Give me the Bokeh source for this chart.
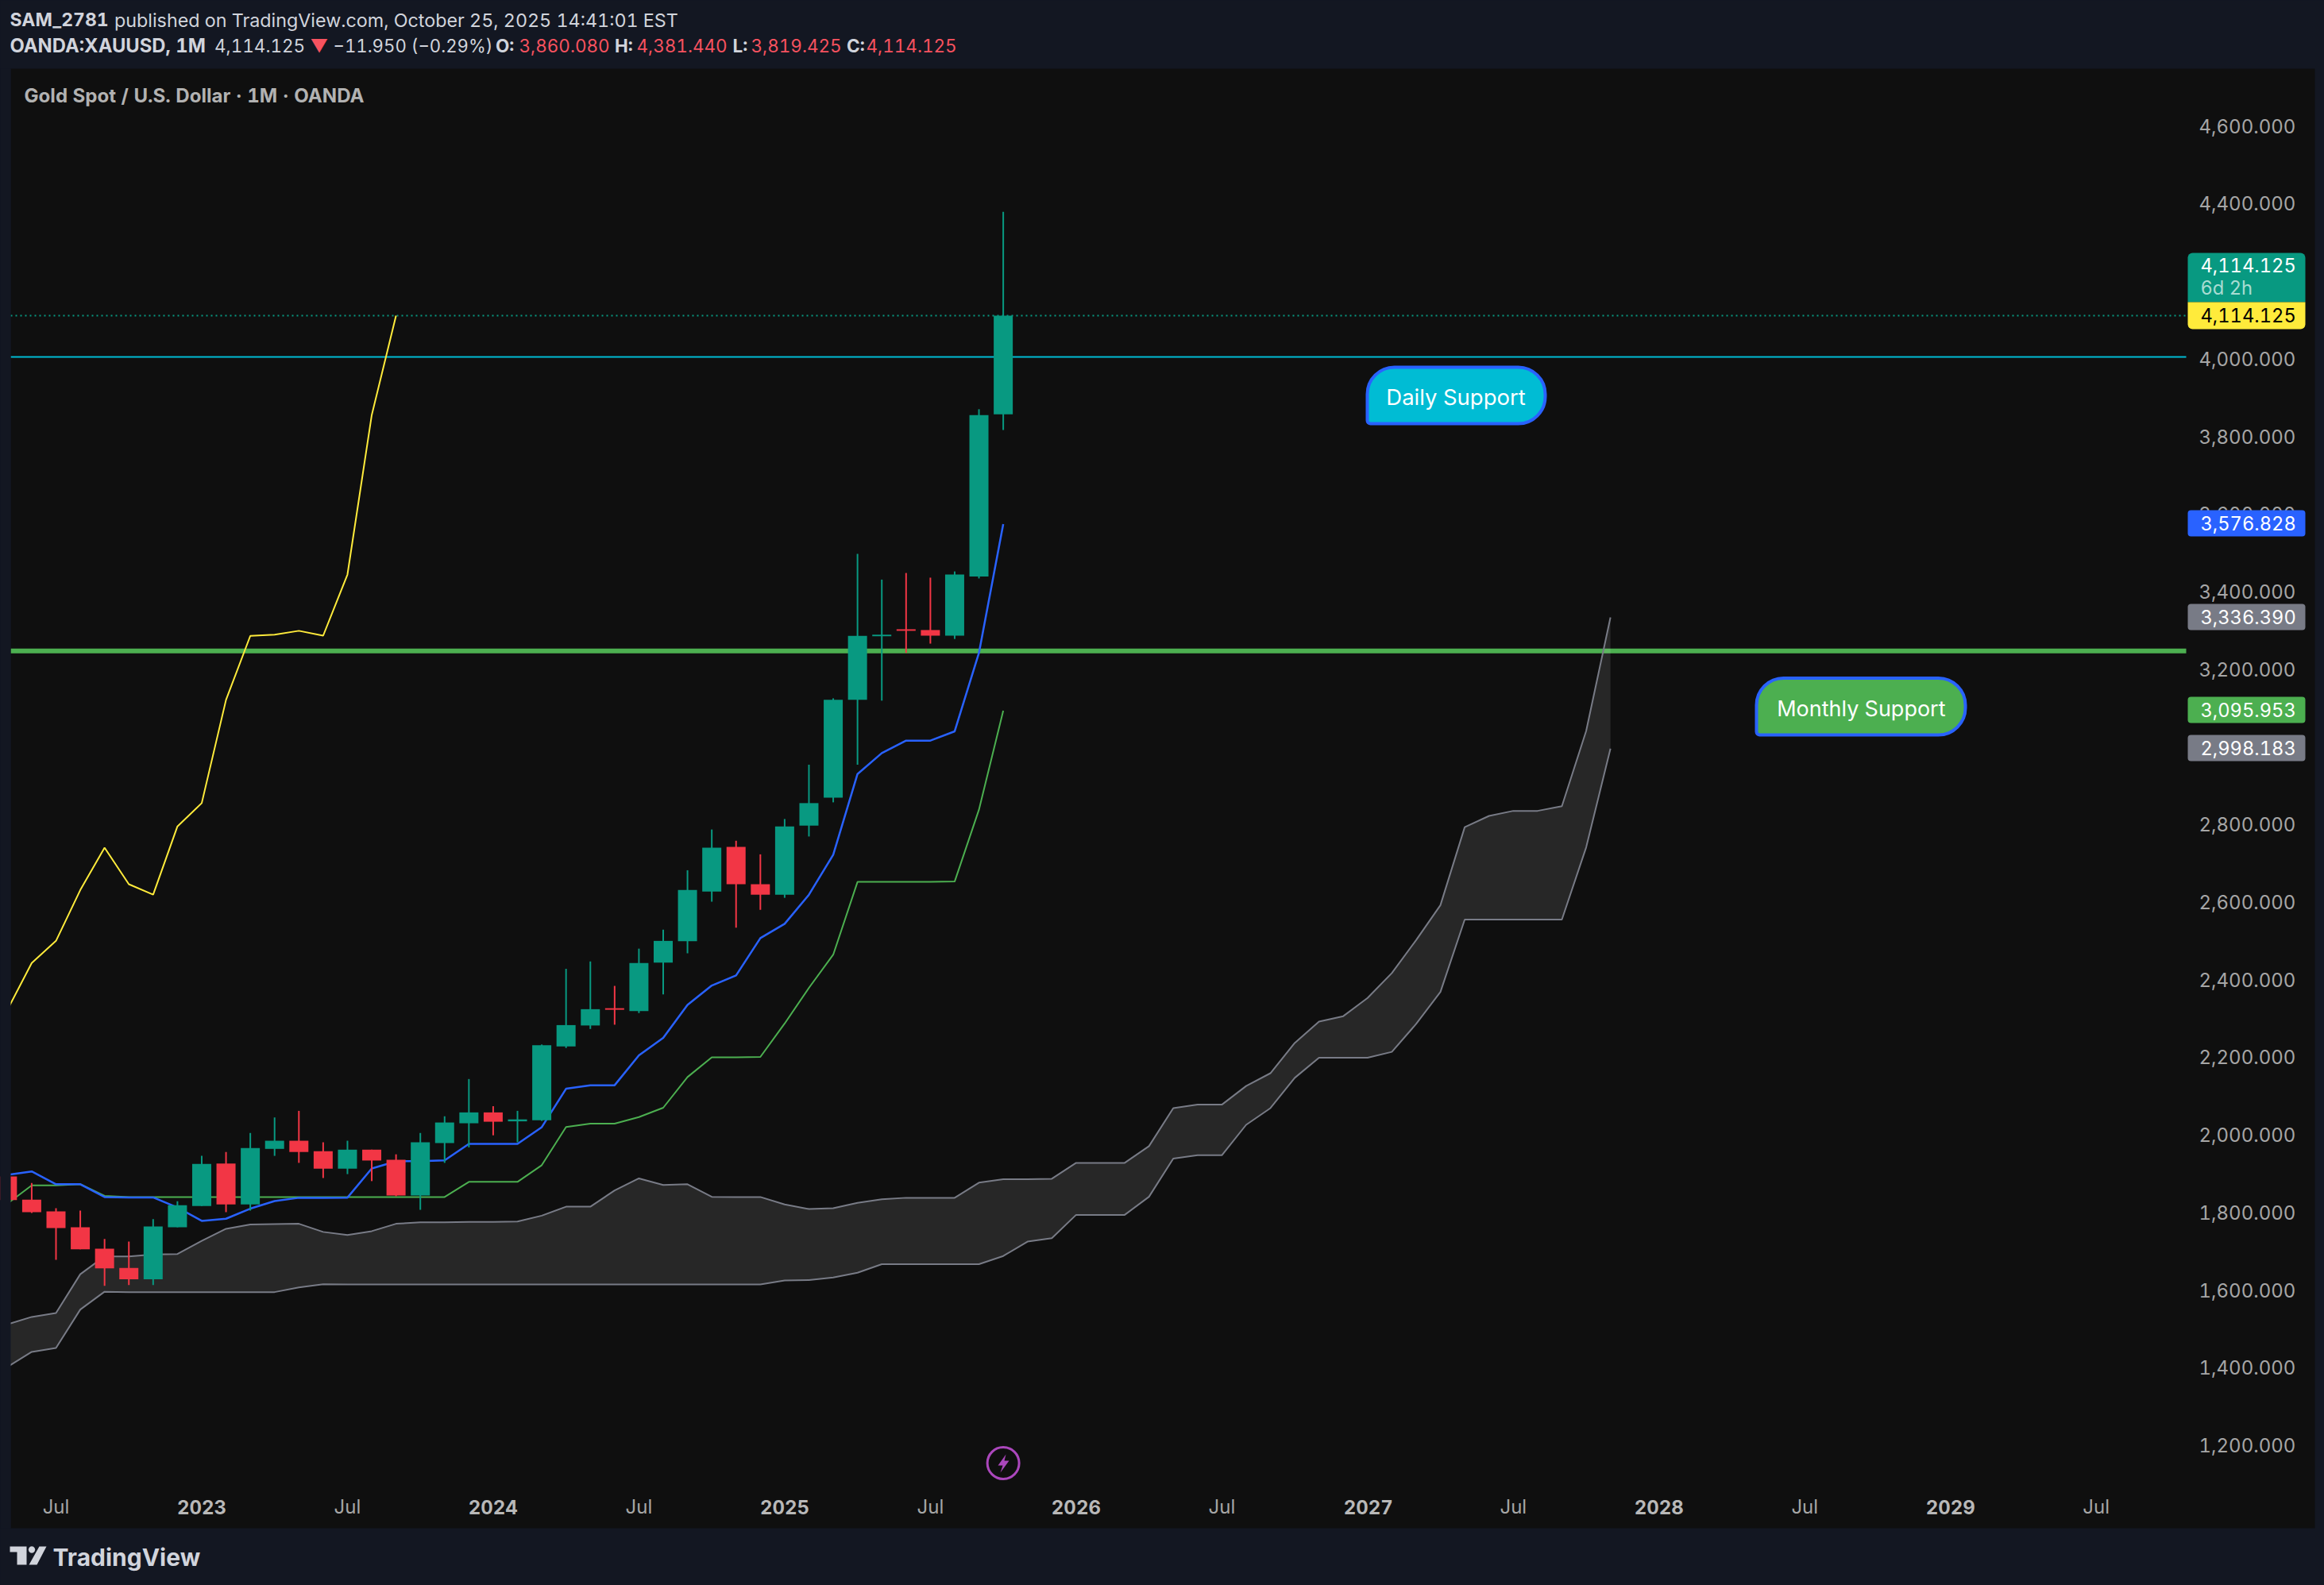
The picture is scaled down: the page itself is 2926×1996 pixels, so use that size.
import math
from bokeh.embed import file_html
from bokeh.resources import INLINE
from bokeh.plotting import figure
from bokeh.models import (BoxAnnotation, ColumnDataSource, FixedTicker, Label, LinearAxis,
                          NumeralTickFormatter, PolyAnnotation, Range1d)

# ---------- data ----------
months = list(range(-2, 40))        # months after Jul 2022
open_ = [1896,1836,1806,1765,1710,1660,1631,1765,1820,1929,1824,1967,1988,1961,1916,1965,1939,1847,1982,2033,2061,2038,2041,2231,2285,2329.5,2322,2447,2502,2630,2745,2649,2622,2800,2872,3124,3288,3306,3304,3289.5,3442,3860.08]
high = [1910,1879,1814,1808,1735,1728,1786,1832,1949,1959,2008,2048,2065,1984,1988,1965,1953,2008,2051,2147,2077,2065,2236,2431,2450,2387,2483,2532,2685,2790,2761,2726,2817,2957,3128,3500,3434,3451,3439,3455,3873,4381.44]
low = [1786,1802,1681,1708,1614,1616,1616,1765,1820,1804,1808,1949,1931,1892,1902,1884,1845,1810,1931,1971,2002,1984,2039,2227,2276,2287,2317,2365,2471,2604,2537,2583,2614,2772,2860,2957,3122,3245,3269,3281,3437,3819.425]
close = [1835,1804,1763,1708,1659,1631,1767,1822,1928,1824,1969,1988,1959,1916,1965,1937,1847,1984,2035,2061,2037,2043,2234,2286,2327,2325.5,2446,2503,2634,2743,2649,2622,2798,2858,3124,3289,3292,3302,3289.5,3447,3858,4114.125]
tenkan = [1900,1909,1876,1876,1843,1842,1842,1816,1781.5,1787,1813,1832.5,1841,1841,1841.5,1916.5,1935,1935.5,1937.5,1980,1980,1980,2023,2122,2131,2131,2208,2253,2338,2388,2414,2510,2547,2622,2725,2933,2987,3019,3019,3043,3245,3576.828]
kijun = [1826,1873,1873,1876,1846,1843,1843,1843,1843,1843,1843,1843,1843,1843,1843,1843,1843,1843,1843,1882,1882,1882,1925,2023.5,2032,2032,2049,2073,2152,2203,2203,2204,2290,2382,2467.5,2655,2655,2655,2655,2656,2841,3095.953]
cloud_months = list(range(-2, 65))
cloud_upper = [1515,1534,1544,1644,1690,1690,1695,1696,1730,1761,1772,1773,1774,1753,1745,1755,1774,1778,1778,1779,1779,1780,1795,1818,1818,1860,1891,1874,1876,1843.5,1843,1843,1824,1812,1814,1828,1837,1841,1841,1841,1880,1889,1889,1890,1931,1931,1931,1974,2072,2081,2081,2129,2162,2240,2295,2309,2356,2420,2505,2595,2796,2825,2838,2838,2850,3044,3336.39]
cloud_lower = [1405,1444,1454,1553,1599,1598,1598,1598,1598,1598,1598,1598,1610,1618,1617.5,1617.5,1617.5,1617.5,1617.5,1617.5,1617.5,1617.5,1617.5,1617.5,1617.5,1617.5,1617.5,1617.5,1617.5,1617.5,1617.5,1617.5,1628,1629,1635.5,1648,1670,1670,1670,1670,1670,1691,1728,1737,1797,1797,1797,1843.5,1942,1950.5,1950.5,2029,2072,2150,2202,2202,2202,2217,2289,2371.5,2558,2558,2558,2558,2558,2744,2998.183]
daily_support = 4007.7
monthly_support = 3250
y_ticks = [1200,1400,1600,1800,2000,2200,2400,2600,2800,3000,3200,3400,3600,3800,4000,4200,4400,4600]
year_ticks = [6, 18, 30, 42, 54, 66, 78]
year_labels = ["2023", "2024", "2025", "2026", "2027", "2028", "2029"]
jul_ticks = [0, 12, 24, 36, 48, 60, 72, 84]
jul_labels = ["Jul"] * 8

# ---------- colours ----------
BG, PANE = "#131722", "#0f0f0f"
UP, DOWN = "#089981", "#f23645"
BLUE, GREEN, CYAN, YELLOW, GREY = "#2962ff", "#4caf50", "#00bcd4", "#ffeb3b", "#787b86"
TEXT, HRED = "#d1d4dc", "#f7525f"
FONT = "Inter"

# ---------- layout helpers: picture pixel -> chart coordinates ----------
PX_MONTH, PX_X0 = 30.58, 70.0
PX_UNIT, PX_Y0 = 0.4887, 397.0
def xd(px): return (px - PX_X0) / PX_MONTH
def yd(py): return 4114.125 - (py - PX_Y0) / PX_UNIT

W, H = 2926, 1996
p = figure(width=W, height=H, output_backend="svg", toolbar_location=None,
           x_range=Range1d(xd(0), xd(W)), y_range=Range1d(yd(H), yd(0)),
           x_axis_location=None, y_axis_location=None,
           min_border=0, background_fill_color=BG, border_fill_color=BG, outline_line_color=None)
p.grid.visible = False
# the price-scale labels sit 1.5px above their true level in the reference
p.extra_y_ranges = {"ticks": Range1d(yd(H + 1.5), yd(1.5))}

def box(l, r, t, b, fill, radius=4, line=None, lw=0, level="annotation"):
    p.add_layout(BoxAnnotation(left=xd(l), right=xd(r), top=yd(t), bottom=yd(b), level=level,
                               fill_color=fill, fill_alpha=1, line_color=line, line_width=lw,
                               line_alpha=1 if line else 0, border_radius=radius))

# ---------- pane ----------
box(13, 2914, 86, 1924, PANE, 0, level="underlay")

# ---------- levels ----------
xl, xr = xd(13), xd(2752)
p.line([xl, xr], [monthly_support] * 2, line_color=GREEN, line_width=6)
p.line([xl, xr], [daily_support] * 2, line_color=CYAN, line_width=2)
p.line([xl, xr], [close[-1]] * 2, line_color=UP, line_width=2, line_dash="2 4")

# ---------- ichimoku ----------
p.varea(cloud_months, cloud_lower, cloud_upper, fill_color="#ffffff", fill_alpha=0.1)
p.line(cloud_months, cloud_upper, line_color=GREY, line_width=2)
p.line(cloud_months, cloud_lower, line_color=GREY, line_width=2)
p.line(months[:-25], close[25:], line_color=YELLOW, line_width=2)
p.line(months, kijun, line_color=GREEN, line_width=2)
p.line(months, tenkan, line_color=BLUE, line_width=2.5)

# ---------- candles ----------
colors = [UP if c >= o else DOWN for o, c in zip(open_, close)]
src = ColumnDataSource(dict(x=months, o=open_, h=high, l=low, c=close, col=colors))
p.segment("x", "h", "x", "l", source=src, line_color="col", line_width=2)
p.vbar("x", 24 / PX_MONTH, "o", "c", source=src, fill_color="col", line_color=None)

# mask the marks that run past the pane's left edge
box(0, 13, 86, 1924, BG, 0)

# ---------- axes ----------
ay = LinearAxis(fixed_location=xd(2762), ticker=FixedTicker(ticks=y_ticks), y_range_name="ticks",
                formatter=NumeralTickFormatter(format="0,0.000"))
ax1 = LinearAxis(fixed_location=yd(1880), ticker=FixedTicker(ticks=year_ticks),
                 major_label_overrides=dict(zip(year_ticks, year_labels)))
ax2 = LinearAxis(fixed_location=yd(1874.5), ticker=FixedTicker(ticks=jul_ticks),
                 major_label_overrides=dict(zip(jul_ticks, jul_labels)))
for a, side in ((ay, "right"), (ax1, "below"), (ax2, "below")):
    a.axis_line_color = None
    a.major_tick_line_color = None
    a.minor_tick_line_color = None
    a.major_label_text_font = FONT
    a.major_label_text_color = "#a6a6a6"
    a.major_label_text_font_size = "24px"
    a.major_label_standoff = 0
    p.add_layout(a, side)
ax1.major_label_text_font_style = "bold"
ax1.major_label_text_color = "#b8b8b8"
ax1.major_label_standoff = 2
ax2.major_label_standoff = 2

# ---------- texts and badges ----------
def label(x, y, text, color=TEXT, size=24, style="normal", align="left"):
    p.add_layout(Label(x=xd(x), y=yd(y), text=text, text_color=color, text_font=FONT,
                       text_font_size=f"{size}px", text_font_style=style,
                       text_align=align, text_baseline="middle"))

box(2754, 2902, 318, 380, UP, (6, 6, 0, 0))
box(2754, 2902, 380, 414, YELLOW, (0, 0, 6, 6))
box(2754, 2902, 642, 675, BLUE)
box(2754, 2902, 760, 793, GREY)
box(2754, 2902, 877, 910, GREEN)
box(2754, 2902, 925, 958, GREY)
label(2770, 333.5, "4,114.125", "#ffffff", 23.7)
label(2770, 362, "6d 2h", "#a8dcd2", 23.7)
label(2770, 396, "4,114.125", "#000000", 23.7)
label(2770, 658.5, "3,576.828", "#ffffff", 23.7)
label(2770, 776.5, "3,336.390", "#ffffff", 23.7)
label(2770, 893.5, "3,095.953", "#ffffff", 23.7)
label(2770, 941.5, "2,998.183", "#ffffff", 23.7)

box(1721, 1945, 462, 533, CYAN, (34, 34, 34, 4), BLUE, 4)
label(1832.7, 499, "Daily Support", "#ffffff", 27.5, align="center")
box(2211, 2474, 853.5, 925, GREEN, (34, 34, 34, 4), BLUE, 4)
label(2343, 892, "Monthly Support", "#ffffff", 27, align="center")

label(12, 24.5, "SAM_2781", TEXT, 23, "bold")
label(143.5, 24.5, "published on TradingView.com, October 25, 2025 14:41:01 EST", TEXT, 23.3)
label(12, 57, "OANDA:XAUUSD, 1M", TEXT, 23.8, "bold")
label(269.5, 57, "4,114.125", TEXT, 22.5)
label(390, 57, "▼", HRED, 22.5)
label(419, 57, "−11.950 (−0.29%)", TEXT, 22.2)
for xk, k, xv, v in ((623.5, "O:", 653, "3,860.080"), (773.5, "H:", 801, "4,381.440"),
                     (922, "L:", 945, "3,819.425"), (1065.5, "C:", 1090, "4,114.125")):
    label(xk, 57, k, TEXT, 22.5, "bold")
    label(xv, 57, v, HRED, 22.5)
label(30, 119.5, "Gold Spot / U.S. Dollar · 1M · OANDA", "#b2b2b2", 24.1, "bold")

# ---------- lightning mark ----------
p.scatter([39], [yd(1842)], size=40, marker="circle", fill_color=None, line_color="#ab47bc", line_width=3)
p.add_layout(PolyAnnotation(
    xs=[xd(v) for v in (1266, 1256, 1262, 1259, 1270, 1264)],
    ys=[yd(v) for v in (1831, 1845, 1845, 1854, 1839, 1839)],
    fill_color="#ab47bc", fill_alpha=1, line_color=None))

# ---------- logo ----------
def poly(px, py):
    p.add_layout(PolyAnnotation(xs=[xd(v) for v in px], ys=[yd(v) for v in py],
                                fill_color=TEXT, fill_alpha=1, line_color=None))
poly((12, 33, 33, 21, 21, 12), (1947, 1947, 1970, 1970, 1954, 1954))
poly((49, 58, 46, 36), (1947, 1947, 1970, 1970))
poly([39.5 + 4.2 * math.cos(i * math.pi / 6) for i in range(12)],
     [1951 + 4.2 * math.sin(i * math.pi / 6) for i in range(12)])
label(66, 1960, "TradingView", TEXT, 30, "bold")

style = f'<style>html,body{{background:{BG};font-feature-settings:"tnum" 1}}</style>'
html = file_html(p, INLINE).replace("<head>", "<head>" + style, 1)
open("out.html", "w").write(html)
